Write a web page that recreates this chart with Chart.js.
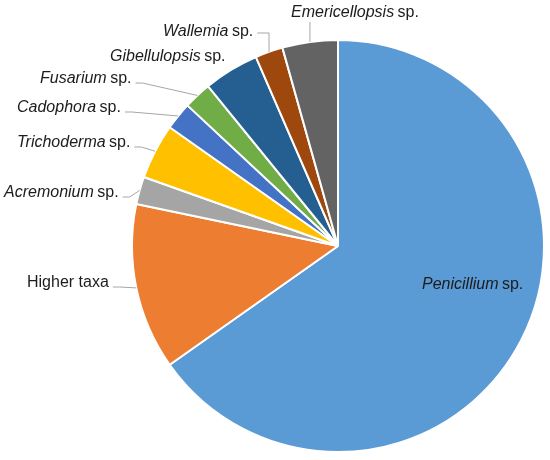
<!DOCTYPE html>
<html>
<head>
<meta charset="utf-8">
<script src="https://cdn.jsdelivr.net/npm/chart.js@4.4.1/dist/chart.umd.min.js"></script>
<style>
    html, body { margin: 0; padding: 0; background: #fff; }
    #wrap { width: 550px; height: 460px; position: relative; }
</style>
</head>
<body>
<div id="wrap"><canvas id="chart-pie" width="550" height="460"></canvas></div>
<script>
// data (counts of isolates, 46 in total)
const taxa = ['Penicillium', 'Higher taxa', 'Acremonium', 'Trichoderma', 'Cadophora', 'Fusarium', 'Gibellulopsis', 'Wallemia', 'Emericellopsis'];
const counts = [30, 6, 1, 2, 1, 1, 2, 1, 2];
const isGenus = [true, false, true, true, true, true, true, true, true];
const sliceColors = ['#5B9BD5', '#ED7D31', '#A5A5A5', '#FFC000', '#4472C4', '#70AD47', '#255E91', '#9E480E', '#636363'];

// where each label sits (left edge, vertical middle) and how its leader runs
const labelPlace = [
    { x: 422, y: 285, leader: 'none' },
    { x: 27, y: 283, leader: 'side' },
    { x: 4, y: 193, leader: 'side' },
    { x: 17, y: 143, leader: 'side' },
    { x: 17, y: 108, leader: 'side' },
    { x: 40, y: 79, leader: 'side' },
    { x: 110, y: 57, leader: 'none' },
    { x: 163, y: 32, leader: 'elbow' },
    { x: 291, y: 13, leader: 'up' },
];

const FONT = '"Liberation Sans", Arial, sans-serif';

const pieLabels = {
    id: 'pieLabels',
    afterDraw(chart) {
        const ctx = chart.ctx;
        const meta = chart.getDatasetMeta(0);
        ctx.save();
        ctx.textBaseline = 'middle';
        ctx.textAlign = 'left';
        meta.data.forEach((arc, i) => {
            const p = arc.getProps(['x', 'y', 'startAngle', 'endAngle', 'outerRadius'], true);
            const mid = (p.startAngle + p.endAngle) / 2;
            const ex = p.x + Math.cos(mid) * p.outerRadius;
            const ey = p.y + Math.sin(mid) * p.outerRadius;
            const pos = labelPlace[i];

            // text: italic genus + regular "sp."
            let w = 0;
            ctx.fillStyle = '#1c1c1c';
            if (isGenus[i]) {
                ctx.font = 'italic 16px ' + FONT;
                ctx.fillText(taxa[i], pos.x, pos.y);
                w = ctx.measureText(taxa[i]).width;
                ctx.font = '16px ' + FONT;
                ctx.fillText(' sp.', pos.x + w - 1, pos.y);
                w += ctx.measureText(' sp.').width - 1;
            } else {
                ctx.font = '16px ' + FONT;
                ctx.fillText(taxa[i], pos.x, pos.y);
                w = ctx.measureText(taxa[i]).width;
            }

            // leader line
            let pts = null;
            if (pos.leader === 'side') {
                const sx = pos.x + w + 4, sy = pos.y + 4;
                pts = [[sx, sy], [sx + 7, sy], [ex, ey]];
            } else if (pos.leader === 'elbow') {
                const sx = pos.x + w + 4, sy = pos.y + 1;
                pts = [[sx, sy], [ex, sy], [ex, ey]];
            } else if (pos.leader === 'up') {
                pts = [[ex, pos.y + 9], [ex, ey]];
            }
            if (pts) {
                ctx.strokeStyle = '#A6A6A6';
                ctx.lineWidth = 1;
                ctx.beginPath();
                ctx.moveTo(pts[0][0], pts[0][1]);
                for (let k = 1; k < pts.length; k++) ctx.lineTo(pts[k][0], pts[k][1]);
                ctx.stroke();
            }
        });
        ctx.restore();
    }
};

document.addEventListener('DOMContentLoaded', () => {
    const ctx = document.getElementById('chart-pie').getContext('2d');
    new Chart(ctx, {
        type: 'pie',
        data: {
            labels: taxa,
            datasets: [{
                data: counts,
                backgroundColor: sliceColors,
                borderColor: '#ffffff',
                borderWidth: 2,
            }]
        },
        options: {
            responsive: false,
            animation: false,
            layout: {
                padding: { left: 131, right: 5, top: 39, bottom: 7 }
            },
            plugins: {
                legend: { display: false },
                tooltip: { enabled: false }
            }
        },
        plugins: [pieLabels]
    });
});
</script>
</body>
</html>
